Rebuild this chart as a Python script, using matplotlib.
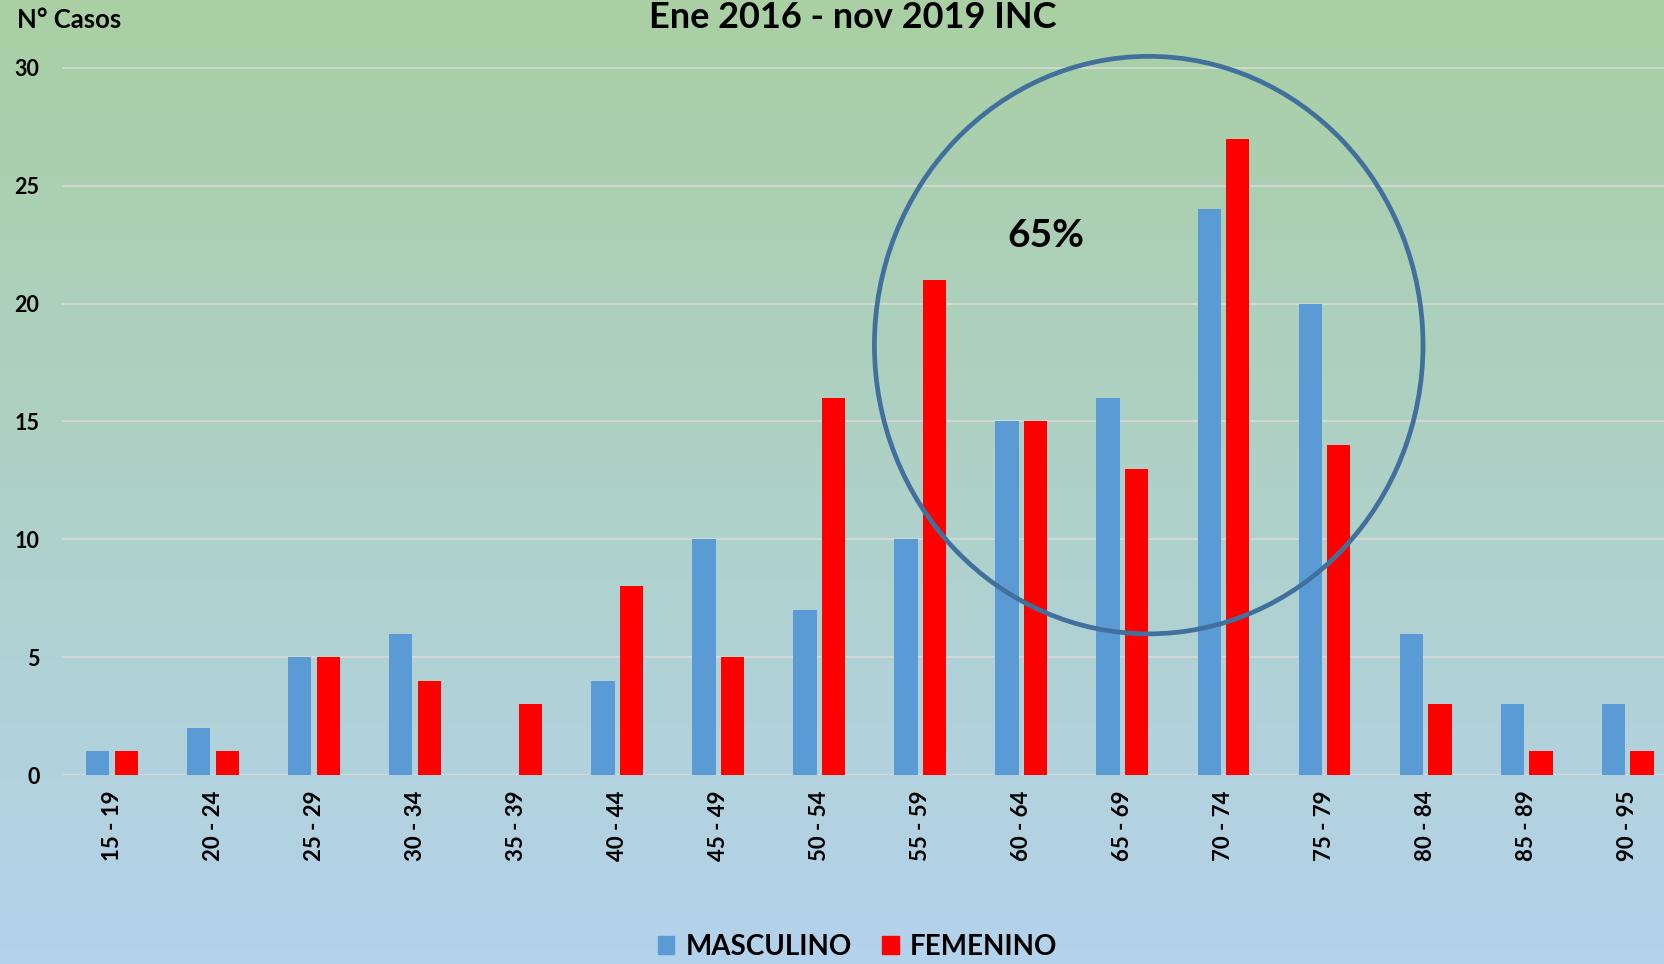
import numpy as np
import matplotlib
matplotlib.use("Agg")
import matplotlib.pyplot as plt
from matplotlib.patches import Ellipse, Patch
from matplotlib.colors import LinearSegmentedColormap

plt.rcParams['font.family'] = ['Lato', 'DejaVu Sans']
plt.rcParams['font.weight'] = 'bold'

# datos
grupos = ['15 - 19', '20 - 24', '25 - 29', '30 - 34', '35 - 39', '40 - 44',
          '45 - 49', '50 - 54', '55 - 59', '60 - 64', '65 - 69', '70 - 74',
          '75 - 79', '80 - 84', '85 - 89', '90 - 95']
masculino = [1, 2, 5, 6, 0, 4, 10, 7, 10, 15, 16, 24, 20, 6, 3, 3]
femenino = [1, 1, 5, 4, 3, 8, 5, 16, 21, 15, 13, 27, 14, 3, 1, 1]
yticks = [0, 5, 10, 15, 20, 25, 30]

azul = '#5B9BD5'
rojo = '#FF0000'

fig = plt.figure(figsize=(16.65, 9.64), dpi=100)

# fondo degradado verde -> celeste
bg = fig.add_axes([0, 0, 1, 1])
cmap = LinearSegmentedColormap.from_list('fondo', ['#A9CFA3', '#B4D3EC'])
grad = np.linspace(0, 1, 256).reshape(-1, 1)
bg.imshow(grad, aspect='auto', cmap=cmap, extent=[0, 1, 0, 1], origin='upper')
bg.set_axis_off()

ax = fig.add_axes([0.037, 0.196, 0.963, 0.804])
ax.patch.set_alpha(0)

x = np.arange(len(grupos))
w = 0.23
ax.bar(x - 0.142, masculino, w, color=azul, zorder=3)
ax.bar(x + 0.142, femenino, w, color=rojo, zorder=3)

ax.set_xlim(-0.5, 15.37)
ax.set_ylim(0, 32.88)
ax.set_yticks(yticks)
ax.set_yticklabels([str(v) for v in yticks], fontsize=15.5, fontweight='bold')
ax.set_xticks(x)
ax.set_xticklabels(grupos, rotation=90, fontsize=16, fontweight='bold')
ax.tick_params(axis='y', length=0, pad=16)
ax.tick_params(axis='x', length=0, pad=11)
ax.grid(axis='y', color='#D9D9D9', linewidth=1.2, zorder=0)
for s in ax.spines.values():
    s.set_visible(False)

# circulo de resaltado
ax.add_patch(Ellipse((10.26, 18.24), 5.43, 24.5, fill=False,
                     edgecolor='#41709C', linewidth=3.4, zorder=4, clip_on=False))
ax.text(9.24, 22.9, '65%', fontsize=28, fontweight='bold', ha='center', va='center', zorder=5)

fig.text(0.512, 0.999, 'Ene 2016 - nov 2019 INC', fontsize=26,
         fontweight='bold', ha='center', va='top')
fig.text(0.010, 1 - 20 / 964, 'N° Casos', fontsize=18.5, fontweight='bold',
         ha='left', va='center')

handles = [Patch(color=azul, label='MASCULINO'), Patch(color=rojo, label='FEMENINO')]
fig.legend(handles=handles, loc='center', bbox_to_anchor=(0.515, 1 - 947 / 964),
           ncol=2, frameon=False, prop={'size': 20, 'weight': 'bold'},
           handlelength=0.6, handleheight=0.6, handletextpad=0.4, columnspacing=1.1)

fig.savefig('out.png', dpi=100)
